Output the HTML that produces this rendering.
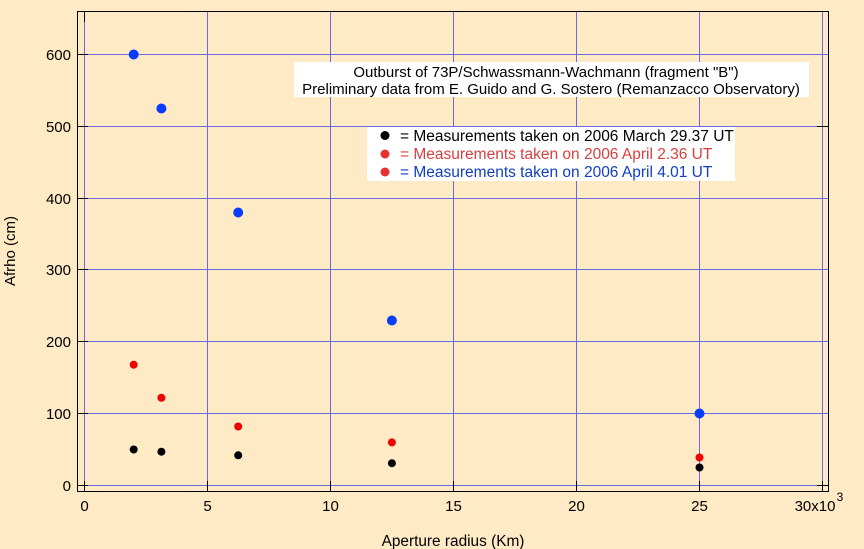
<!DOCTYPE html><html><head><style>body{margin:0;background:#FEEAC4}svg{display:block}</style></head><body>
<svg width="864" height="549" xmlns="http://www.w3.org/2000/svg" font-family="Liberation Sans, sans-serif">
<rect width="864" height="549" fill="#FEEAC4"/>
<g stroke="#6A6AE0" stroke-width="1">
<line x1="84.5" y1="11" x2="84.5" y2="491"/><line x1="207.5" y1="11" x2="207.5" y2="491"/><line x1="330.5" y1="11" x2="330.5" y2="491"/><line x1="453.5" y1="11" x2="453.5" y2="491"/><line x1="576.5" y1="11" x2="576.5" y2="491"/><line x1="699.5" y1="11" x2="699.5" y2="491"/><line x1="822.5" y1="11" x2="822.5" y2="491"/>
<line x1="77" y1="485.5" x2="828" y2="485.5"/><line x1="77" y1="413.5" x2="828" y2="413.5"/><line x1="77" y1="341.5" x2="828" y2="341.5"/><line x1="77" y1="269.5" x2="828" y2="269.5"/><line x1="77" y1="198.5" x2="828" y2="198.5"/><line x1="77" y1="126.5" x2="828" y2="126.5"/><line x1="77" y1="54.5" x2="828" y2="54.5"/>
</g>
<rect x="77.5" y="11.5" width="751" height="480" fill="none" stroke="#000"/>
<g stroke="#000">
<line x1="84.5" y1="481" x2="84.5" y2="491"/><line x1="207.5" y1="481" x2="207.5" y2="491"/><line x1="330.5" y1="481" x2="330.5" y2="491"/><line x1="453.5" y1="481" x2="453.5" y2="491"/><line x1="576.5" y1="481" x2="576.5" y2="491"/><line x1="699.5" y1="481" x2="699.5" y2="491"/><line x1="822.5" y1="481" x2="822.5" y2="491"/>
<line x1="84.5" y1="11" x2="84.5" y2="22"/>
<line x1="77" y1="485.5" x2="88" y2="485.5"/><line x1="77" y1="413.5" x2="88" y2="413.5"/><line x1="77" y1="341.5" x2="88" y2="341.5"/><line x1="77" y1="269.5" x2="88" y2="269.5"/><line x1="77" y1="198.5" x2="88" y2="198.5"/><line x1="77" y1="126.5" x2="88" y2="126.5"/><line x1="77" y1="54.5" x2="88" y2="54.5"/>
<line x1="817" y1="485.5" x2="828" y2="485.5"/><line x1="817" y1="126.5" x2="828" y2="126.5"/>
</g>
<g font-size="15" text-anchor="end" fill="#000">
<text x="71" y="491">0</text><text x="71" y="419">100</text><text x="71" y="347">200</text><text x="71" y="275">300</text><text x="71" y="204">400</text><text x="71" y="132">500</text><text x="71" y="60">600</text>
</g>
<g font-size="15" text-anchor="middle" fill="#000">
<text x="84.5" y="511">0</text><text x="207.5" y="511">5</text><text x="330.5" y="511">10</text><text x="453.5" y="511">15</text><text x="576.5" y="511">20</text><text x="699.5" y="511">25</text>
<text x="815" y="511">30x10</text><text x="840" y="501" font-size="12">3</text>
<text x="453" y="546" font-size="15.4">Aperture radius (Km)</text>
<text transform="translate(15,251) rotate(-90)" font-size="15">Afrho (cm)</text>
</g>
<rect x="294" y="62" width="515" height="35" fill="#fff"/>
<g font-size="15" text-anchor="middle" fill="#000">
<text x="546" y="77">Outburst of 73P/Schwassmann-Wachmann (fragment "B")</text>
<text x="551" y="94">Preliminary data from E. Guido and G. Sostero (Remanzacco Observatory)</text>
</g>
<rect x="367" y="127" width="368" height="54" fill="#fff"/>
<circle cx="385" cy="135.5" r="4.5" fill="#000"/><circle cx="385" cy="154" r="4.5" fill="#E83030"/><circle cx="385" cy="172" r="4.5" fill="#E83030"/>
<g font-size="15.5">
<text x="400" y="141" fill="#000">= Measurements taken on 2006 March 29.37 UT</text>
<text x="400" y="159" fill="#D84040">= Measurements taken on 2006 April 2.36 UT</text>
<text x="400" y="177" fill="#1040C0">= Measurements taken on 2006 April 4.01 UT</text>
</g>
<g fill="#000"><circle cx="133.7" cy="449.5" r="4"/><circle cx="161.4" cy="451.7" r="4"/><circle cx="238.2" cy="455.3" r="4"/><circle cx="391.9" cy="463.2" r="4"/><circle cx="699.5" cy="467.5" r="4"/></g>
<g fill="#F00000"><circle cx="133.7" cy="364.7" r="4"/><circle cx="161.4" cy="397.8" r="4"/><circle cx="238.2" cy="426.5" r="4"/><circle cx="391.9" cy="442.4" r="4"/><circle cx="699.5" cy="457.5" r="4"/></g>
<g fill="#0A3CFF"><circle cx="133.7" cy="54.5" r="5"/><circle cx="161.4" cy="108.5" r="5"/><circle cx="238.2" cy="212.5" r="5"/><circle cx="391.9" cy="320.5" r="5"/><circle cx="699.5" cy="413.5" r="5"/></g>
</svg></body></html>
